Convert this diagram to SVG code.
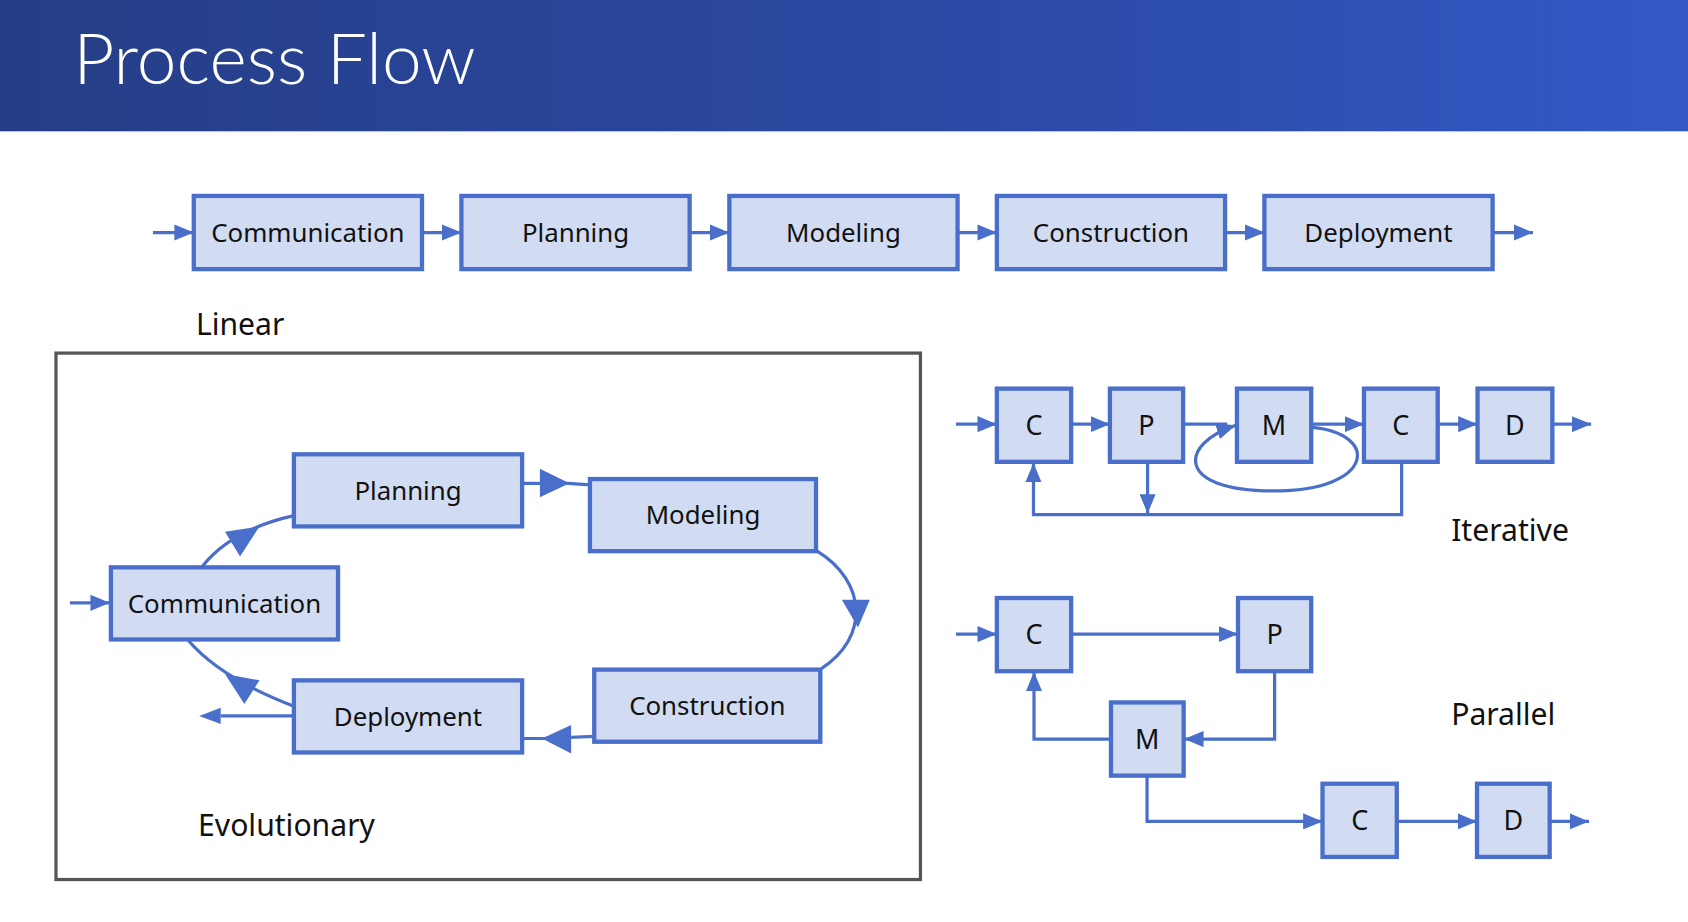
<svg xmlns="http://www.w3.org/2000/svg" width="1688" height="922" viewBox="0 0 1688 922">
<defs>
<linearGradient id="hdr" x1="0" y1="0" x2="1" y2="0">
<stop offset="0" stop-color="#253e86"/>
<stop offset="0.6" stop-color="#2c4aa6"/>
<stop offset="1" stop-color="#3358c6"/>
</linearGradient>
<marker id="ah" viewBox="0 0 18 15" markerUnits="userSpaceOnUse" markerWidth="18" markerHeight="15" refX="18" refY="7.5" orient="auto">
<path d="M0,0 L18,7.5 L0,15 Z" fill="#4a6fca"/>
</marker>
<style>
.box{fill:#d1dcf3;stroke:#4a6fca;stroke-width:4}
.lbl{font-family:"Noto Sans","Liberation Sans",sans-serif;font-size:24px;fill:#111;text-anchor:middle}
.ltr{font-family:"Noto Sans","Liberation Sans",sans-serif;font-size:25px;fill:#111;text-anchor:middle}
.sec{font-family:"Noto Sans","Liberation Sans",sans-serif;font-size:28px;fill:#111}
.con{fill:none;stroke:#4a6fca;stroke-width:3}
.arr{marker-end:url(#ah)}
.big{fill:#4a6fca}
</style>
</defs>
<rect width="1688" height="922" fill="#ffffff"/>
<g transform="scale(1.076531)">
<g id="header">
<rect x="0" y="0" width="1568" height="122" fill="url(#hdr)"/>
<text x="68" y="78" font-family="Lato,'Noto Sans',sans-serif" font-weight="300" font-size="65" fill="#ffffff" textLength="374" lengthAdjust="spacingAndGlyphs">Process Flow</text>
</g>

<g id="labels">
<text class="sec" x="182" y="311">Linear</text>
<text class="sec" x="184" y="777">Evolutionary</text>
<text class="sec" x="1348" y="503">Iterative</text>
<text class="sec" x="1348" y="673">Parallel</text>
</g>

<rect id="evo-frame" x="52" y="328" width="803" height="489" fill="none" stroke="#555555" stroke-width="3"/>

<g id="connectors">
<!-- linear -->
<path class="con arr" d="M142,216 H180"/>
<path class="con arr" d="M392,216 H428.6"/>
<path class="con arr" d="M640.5,216 H677.5"/>
<path class="con arr" d="M889.5,216 H926"/>
<path class="con arr" d="M1138,216 H1174.5"/>
<path class="con arr" d="M1386.5,216 H1424"/>
<!-- evolutionary -->
<path class="con arr" d="M65,560 H102"/>
<path class="con" d="M188,526 Q215,492 273,479"/>
<polygon class="big" points="241,489 209,494 223,517"/>
<path class="con" d="M485,449 L528,449 L548,450.5"/>
<polygon class="big" points="529,449 501.5,435.5 501.5,462"/>
<path class="con" d="M759,512 C805,540 808,592 763,621"/>
<polygon class="big" points="797,583 782,557 808,557"/>
<path class="con" d="M552,684 L504,686 L485,686"/>
<polygon class="big" points="503.5,686 530.5,673.5 530.5,700"/>
<path class="con" d="M273,656 Q205,630 175,595"/>
<polygon class="big" points="209,626 227,654 241,632"/>
<path class="con" d="M273,665 H205"/>
<polygon class="big" points="185,665 205,657.5 205,672.5"/>
<!-- iterative -->
<path class="con arr" d="M888,394 H926"/>
<path class="con arr" d="M995,394 H1031"/>
<path class="con" d="M1099,394 H1140"/>
<path class="con arr" d="M1219,394 H1267"/>
<path class="con arr" d="M1335.5,394 H1372.5"/>
<path class="con arr" d="M1442,394 H1478"/>
<path class="con arr" d="M1219,397 C1282,403 1277,456 1183,456 C1090,456 1096,412 1148,395"/>
<path class="con arr" d="M1302,429 V478 H960 V430"/>
<path class="con arr" d="M1066,429 V477"/>
<!-- parallel -->
<path class="con arr" d="M888,589 H926"/>
<path class="con arr" d="M995,589 H1150"/>
<path class="con arr" d="M1184,623 V686.5 H1100"/>
<path class="con arr" d="M1032,686.5 H960.5 V624"/>
<path class="con arr" d="M1065.5,720 V763 H1228.5"/>
<path class="con arr" d="M1298,763 H1372"/>
<path class="con arr" d="M1440,763 H1476"/>
</g>

<g id="lin-communication"><rect class="box" x="180" y="182" width="212" height="68"/><text class="lbl" x="286" y="224.5">Communication</text></g>
<g id="lin-planning"><rect class="box" x="428.6" y="182" width="212" height="68"/><text class="lbl" x="534.6" y="224.5">Planning</text></g>
<g id="lin-modeling"><rect class="box" x="677.5" y="182" width="212" height="68"/><text class="lbl" x="783.5" y="224.5">Modeling</text></g>
<g id="lin-construction"><rect class="box" x="926" y="182" width="212" height="68"/><text class="lbl" x="1032" y="224.5">Construction</text></g>
<g id="lin-deployment"><rect class="box" x="1174.5" y="182" width="212" height="68"/><text class="lbl" x="1280.5" y="224.5">Deployment</text></g>

<g id="evo-planning"><rect class="box" x="273" y="422" width="212" height="67"/><text class="lbl" x="379" y="464">Planning</text></g>
<g id="evo-modeling"><rect class="box" x="548" y="445" width="210" height="67"/><text class="lbl" x="653" y="487">Modeling</text></g>
<g id="evo-communication"><rect class="box" x="103" y="527" width="211" height="67"/><text class="lbl" x="208.5" y="569">Communication</text></g>
<g id="evo-construction"><rect class="box" x="552" y="622" width="210" height="67"/><text class="lbl" x="657" y="664">Construction</text></g>
<g id="evo-deployment"><rect class="box" x="273" y="632" width="212" height="67"/><text class="lbl" x="379" y="674">Deployment</text></g>

<g id="it-c1"><rect class="box" x="926" y="361" width="69" height="68"/><text class="ltr" x="960.5" y="404">C</text></g>
<g id="it-p"><rect class="box" x="1031" y="361" width="68" height="68"/><text class="ltr" x="1065" y="404">P</text></g>
<g id="it-m"><rect class="box" x="1149" y="361" width="69" height="68"/><text class="ltr" x="1183.5" y="404">M</text></g>
<g id="it-c2"><rect class="box" x="1267" y="361" width="68.5" height="68"/><text class="ltr" x="1301.2" y="404">C</text></g>
<g id="it-d"><rect class="box" x="1372.5" y="361" width="69.5" height="68"/><text class="ltr" x="1407.2" y="404">D</text></g>

<g id="par-c1"><rect class="box" x="926" y="555.5" width="69" height="68"/><text class="ltr" x="960.5" y="598.5">C</text></g>
<g id="par-p"><rect class="box" x="1150" y="555.5" width="68" height="68"/><text class="ltr" x="1184" y="598.5">P</text></g>
<g id="par-m"><rect class="box" x="1032" y="652.5" width="67.5" height="68"/><text class="ltr" x="1065.7" y="695.5">M</text></g>
<g id="par-c2"><rect class="box" x="1228.5" y="728" width="69" height="68"/><text class="ltr" x="1263" y="771">C</text></g>
<g id="par-d"><rect class="box" x="1372" y="728" width="67.5" height="68"/><text class="ltr" x="1405.7" y="771">D</text></g>
</g>
</svg>
